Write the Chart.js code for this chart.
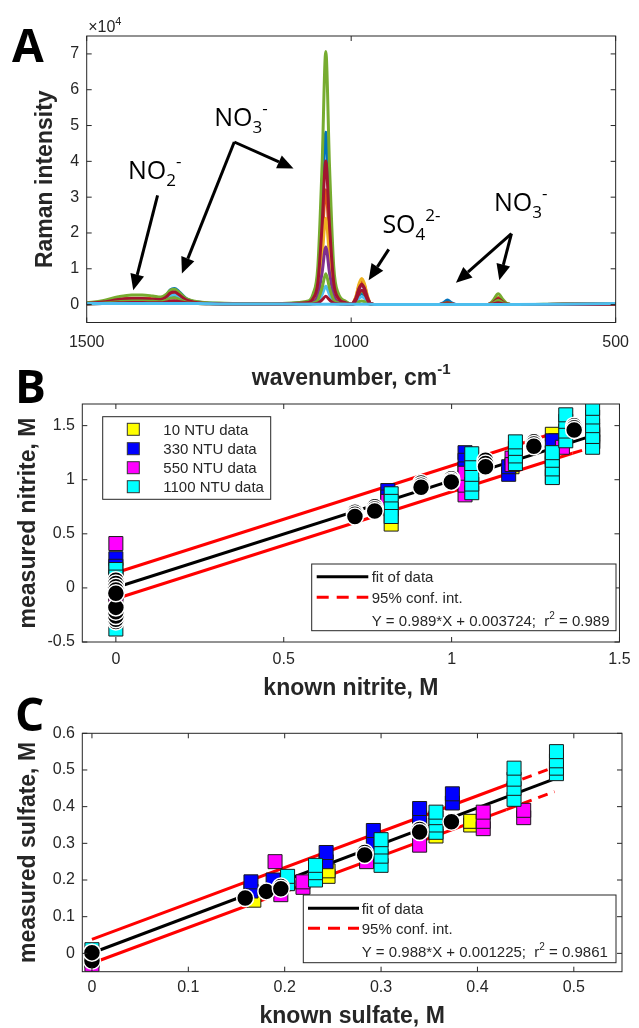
<!DOCTYPE html>
<html>
<head>
<meta charset="utf-8">
<title>Raman nitrite / sulfate</title>
<script src="https://cdn.jsdelivr.net/npm/chart.js@4.4.1/dist/chart.umd.min.js"></script>
<style>
  html, body { margin: 0; padding: 0; background: #fff; }
  #page { position: relative; width: 639px; height: 1028px; overflow: hidden; background: #fff; }
  #page canvas { position: absolute; left: 0; }
</style>
</head>
<body>
<div id="page">
  <canvas id="panelA" width="639" height="400" style="top:0"></canvas>
  <canvas id="panelB" width="639" height="345" style="top:355px"></canvas>
  <canvas id="panelC" width="639" height="338" style="top:690px"></canvas>
</div>
<script>
// --- panel A: Raman spectra (intensity in units of 1e4) ---
const wavenumber = [1500,1470,1440,1415,1395,1375,1360,1350,1342,1334,1326,1312,1290,1240,1150,1085,1072,1063,1055,1048,1041,1033,1024,1010,1000,997,991,985,980,975,969,963,950,880,835,826,818,810,801,770,742,732,722,713,704,690,600,500];
const specBlue   = [.04,.07,.13,.16,.16,.14,.14,.25,.41,.45,.37,.17,.07,.03,.02,.06,.20,.73,2.65,4.81,2.65,.73,.20,.06,.01,.02,.10,.25,.31,.25,.10,.02,0,0,0,.05,.13,.05,0,0,0,.04,.10,.05,.01,0,.01,.02];
const specOrange = [.03,.07,.14,.18,.18,.16,.14,.19,.27,.29,.23,.11,.05,.02,.02,.04,.14,.49,1.77,3.21,1.77,.49,.14,.04,.01,.03,.21,.54,.67,.54,.21,.03,0,0,0,.02,.04,.02,0,0,0,.07,.20,.09,.01,0,.01,.02];
const specYellow = [.03,.06,.11,.13,.13,.12,.10,.15,.22,.24,.19,.09,.05,.02,.02,.03,.11,.37,1.33,2.41,1.33,.37,.11,.03,.01,.03,.23,.59,.73,.59,.23,.03,0,0,0,.01,.03,.01,0,0,0,.05,.14,.06,.01,0,.01,.02];
const specPurple = [.03,.06,.12,.15,.15,.13,.12,.16,.24,.26,.21,.10,.05,.02,.02,.03,.07,.25,.89,1.61,.89,.25,.07,.03,.01,.03,.17,.43,.53,.43,.17,.03,0,0,0,.02,.05,.02,0,0,0,.04,.12,.05,.01,0,.01,.02];
const specGreen  = [.05,.11,.22,.27,.27,.24,.21,.28,.40,.43,.35,.17,.08,.04,.03,.09,.30,1.07,3.89,7.07,3.89,1.07,.30,.09,.01,.02,.12,.30,.37,.30,.12,.02,0,0,0,.02,.06,.02,0,0,0,.11,.30,.14,.02,0,.02,.03];
const specCyan   = [.02,.03,.06,.07,.07,.06,.07,.14,.24,.27,.22,.10,.04,.02,.01,.01,.03,.08,.28,.51,.28,.08,.03,.01,0,.01,.07,.18,.22,.18,.07,.01,0,0,0,.01,.03,.01,0,0,0,.02,.06,.03,0,0,0,.01];
const specRed    = [.03,.07,.14,.17,.17,.15,.14,.21,.32,.35,.28,.13,.05,.02,.02,.05,.17,.61,2.21,4.01,2.21,.61,.17,.05,.01,.03,.18,.46,.57,.46,.18,.03,0,0,0,.02,.05,.02,0,0,0,.06,.16,.07,.01,0,.01,.02];
const specGreen2 = [.02,.04,.08,.10,.10,.09,.08,.12,.18,.19,.15,.07,.03,.02,.01,.01,.04,.13,.47,.86,.47,.13,.04,.01,0,0,.03,.08,.10,.08,.03,0,0,0,0,.01,.02,.01,0,0,0,.04,.12,.05,.01,0,0,.01];
const specRed2   = [.02,.03,.05,.06,.06,.05,.05,.07,.10,.11,.09,.05,.03,.02,.01,.01,.02,.04,.13,.23,.13,.04,.02,.01,0,.01,.12,.32,.40,.32,.12,.01,0,0,0,.01,.02,.01,0,0,0,.02,.05,.02,0,0,0,.01];
const specBlank  = [.03,.03,.03,.03,.03,.03,.03,.03,.03,.03,.03,.03,.03,.02,.02,.01,.01,.01,.01,.01,.01,.01,.01,.01,.01,.01,.01,.01,.01,.01,.01,.01,0,0,0,0,0,0,0,0,0,0,0,0,0,0,.01,.03];
const wnTicks = [1500, 1000, 500];
const ramanTicks = [0, 1, 2, 3, 4, 5, 6, 7];

// --- panel B: nitrite ---
const nitXTicks = [0, 0.5, 1, 1.5];
const nitYTicks = [-0.5, 0, 0.5, 1, 1.5];
const nit10X = [0, 0, 0.82, 0.82, 1.04, 1.18, 1.30, 1.31, 1.42, 1.42];
const nit10Y = [-0.05, 0.05, 0.59, 0.72, 1.02, 1.12, 1.42, 1.36, 1.35, 1.42];
const nit330X = [0, 0, 0, 0.81, 0.81, 1.04, 1.04, 1.04, 1.04, 1.17, 1.17, 1.30, 1.30, 1.30, 1.42, 1.42];
const nit330Y = [0.27, 0.20, -0.22, 0.90, 0.84, 1.25, 1.18, 1.10, 1.00, 1.05, 1.12, 1.36, 1.25, 1.15, 1.35, 1.42];
const nit550X = [0, 0, 0, 0.81, 1.04, 1.04, 1.04, 1.18, 1.18, 1.30, 1.30, 1.33, 1.42, 1.42];
const nit550Y = [0.41, 0.08, -0.15, 0.80, 0.86, 0.95, 1.06, 1.20, 1.14, 1.03, 1.20, 1.30, 1.36, 1.46];
const nit1100X = [0, 0, 0, 0.82, 0.82, 0.82, 0.82, 1.06, 1.06, 1.06, 1.06, 1.06, 1.19, 1.19, 1.19, 1.19, 1.30, 1.30, 1.30, 1.30, 1.34, 1.34, 1.34, 1.34, 1.42, 1.42, 1.42, 1.42, 1.42];
const nit1100Y = [0.17, 0.10, -0.38, 0.87, 0.80, 0.73, 0.66, 0.88, 0.96, 1.05, 1.15, 1.24, 1.15, 1.22, 1.29, 1.35, 1.02, 1.10, 1.18, 1.25, 1.36, 1.45, 1.54, 1.60, 1.30, 1.40, 1.50, 1.58, 1.66];
const nitMeanX = [0, 0, 0, 0, 0, 0, 0, 0, 0, 0, 0.712, 0.712, 0.712, 0.771, 0.771, 0.771, 0.909, 0.909, 0.909, 0.999, 0.999, 0.999, 1.101, 1.101, 1.101, 1.245, 1.245, 1.245, 1.365, 1.365, 1.365];
const nitMeanY = [-0.31, -0.29, -0.26, -0.22, -0.18, 0.07, 0.04, 0.01, -0.02, -0.05, 0.70, 0.68, 0.66, 0.75, 0.73, 0.71, 0.97, 0.95, 0.93, 1.01, 0.99, 0.98, 1.18, 1.15, 1.12, 1.35, 1.33, 1.31, 1.50, 1.48, 1.46];
const nitFitX = [0, 1.42];
const nitFitY = [0.004, 1.408];
const nitCiX = [0, 1.36, 1.42];
const nitCiUpY = [0.14, 1.485, 1.544];
const nitCiLoY = [-0.10, 1.245, 1.30];

// --- panel C: sulfate ---
const sulXTicks = [0, 0.1, 0.2, 0.3, 0.4, 0.5];
const sulYTicks = [0, 0.1, 0.2, 0.3, 0.4, 0.5, 0.6];
const sul10X = [0, 0.168, 0.245, 0.245, 0.357, 0.393, 0.393];
const sul10Y = [-0.02, 0.145, 0.21, 0.225, 0.32, 0.35, 0.36];
const sul330X = [0, 0.165, 0.165, 0.188, 0.243, 0.243, 0.292, 0.292, 0.34, 0.34, 0.34, 0.374, 0.374];
const sul330Y = [-0.01, 0.17, 0.195, 0.20, 0.25, 0.275, 0.30, 0.335, 0.35, 0.37, 0.395, 0.41, 0.435];
const sul550X = [0, 0.19, 0.196, 0.219, 0.219, 0.285, 0.34, 0.406, 0.406, 0.406, 0.448, 0.448];
const sul550Y = [-0.03, 0.25, 0.16, 0.18, 0.195, 0.25, 0.295, 0.34, 0.36, 0.385, 0.37, 0.39];
const sul1100X = [0, 0.203, 0.203, 0.232, 0.232, 0.232, 0.30, 0.30, 0.30, 0.30, 0.357, 0.357, 0.357, 0.357, 0.438, 0.438, 0.438, 0.438, 0.482, 0.482, 0.482, 0.482];
const sul1100Y = [0.01, 0.19, 0.21, 0.20, 0.22, 0.24, 0.24, 0.265, 0.29, 0.31, 0.33, 0.35, 0.37, 0.385, 0.42, 0.45, 0.475, 0.505, 0.49, 0.505, 0.525, 0.55];
const sulMeanX = [0, 0, 0.159, 0.181, 0.196, 0.196, 0.283, 0.283, 0.34, 0.34, 0.373];
const sulMeanY = [-0.02, 0.002, 0.151, 0.169, 0.182, 0.176, 0.275, 0.268, 0.338, 0.331, 0.359];
const sulFitX = [0, 0.48];
const sulFitY = [0.001, 0.476];
const sulCiX = [0, 0.43, 0.48];
const sulCiUpY = [0.038, 0.459, 0.508];
const sulCiLoY = [-0.027, 0.392, 0.441];

const ntuLabels = ['10 NTU data', '330 NTU data', '550 NTU data', '1100 NTU data'];
const ntuColors = ['#FFFF00', '#0000FF', '#FF00FF', '#00FFFF'];

// annotation anchors in panel A, in data units (wavenumber, intensity/1e4)
const peakLabels = [
  { base: 'NO', sub: '2', sup: '-', wn: 1422, val: 3.52 },
  { base: 'NO', sub: '3', sup: '-', wn: 1259, val: 5.0 },
  { base: 'SO', sub: '4', sup: '2-', wn: 941, val: 1.99 },
  { base: 'NO', sub: '3', sup: '-', wn: 730, val: 2.61 }
];
const peakArrows = [
  [1366, 3.05, 1412, 0.40],
  [1221, 4.54, 1320, 0.87],
  [1221, 4.54, 1109, 3.80],
  [929, 1.54, 967, 0.68],
  [697, 1.98, 802, 0.61],
  [697, 1.98, 720, 0.68]
];

const FAMILY = "'Liberation Sans', Arial, sans-serif";
const INK = '#262626';

const pts = (xs, ys) => xs.map((x, i) => ({ x: x, y: ys[i] }));

function axis(min, max, values, horizontal, size, pad, reverse) {
  return {
    type: 'linear', min: min, max: max, reverse: !!reverse,
    afterBuildTicks: s => { s.ticks = values.map(v => ({ value: v })); },
    afterFit: s => { if (horizontal) s.height = size; else s.width = size; },
    grid: { display: false, drawTicks: false },
    border: { display: false },
    ticks: { autoSkip: false, maxRotation: 0, padding: pad, color: INK,
             font: { family: FAMILY, size: 16 }, callback: v => String(v) }
  };
}

function baseOptions(padding, xAxis, yAxis) {
  return {
    responsive: false, animation: false, devicePixelRatio: 1, events: [],
    layout: { padding: padding },
    plugins: { legend: { display: false }, tooltip: { enabled: false } },
    scales: { x: xAxis, y: yAxis }
  };
}

// box with inward ticks on all four sides
function drawFrame(chart) {
  const { ctx, chartArea: a } = chart;
  const sx = chart.scales.x, sy = chart.scales.y;
  ctx.save();
  ctx.strokeStyle = INK;
  ctx.lineWidth = 1;
  ctx.beginPath();
  sx.ticks.forEach(t => {
    const p = sx.getPixelForValue(t.value);
    ctx.moveTo(p, a.bottom); ctx.lineTo(p, a.bottom - 5);
    ctx.moveTo(p, a.top); ctx.lineTo(p, a.top + 5);
  });
  sy.ticks.forEach(t => {
    const p = sy.getPixelForValue(t.value);
    ctx.moveTo(a.left, p); ctx.lineTo(a.left + 5, p);
    ctx.moveTo(a.right, p); ctx.lineTo(a.right - 5, p);
  });
  ctx.stroke();
  ctx.strokeRect(a.left, a.top, a.right - a.left, a.bottom - a.top);
  ctx.restore();
}

// parts: [text, size, bold, dy]
function drawRich(ctx, x, y, parts, family, align) {
  let w = 0;
  parts.forEach(p => {
    ctx.font = (p[2] ? 'bold ' : '') + p[1] + 'px ' + family;
    w += ctx.measureText(p[0]).width;
  });
  let cx = align === 'center' ? x - w / 2 : x;
  ctx.textAlign = 'left';
  ctx.textBaseline = 'alphabetic';
  parts.forEach(p => {
    ctx.font = (p[2] ? 'bold ' : '') + p[1] + 'px ' + family;
    ctx.fillText(p[0], cx, y + p[3]);
    cx += ctx.measureText(p[0]).width;
  });
}

function drawYTitle(ctx, text, x, y) {
  ctx.save();
  ctx.translate(x, y);
  ctx.rotate(-Math.PI / 2);
  ctx.fillStyle = INK;
  ctx.font = 'bold 23px ' + FAMILY;
  ctx.textAlign = 'center';
  ctx.textBaseline = 'alphabetic';
  ctx.fillText(text, 0, 0);
  ctx.restore();
}

function drawPanelLetter(ctx, letter, x, y) {
  ctx.save();
  ctx.fillStyle = '#000';
  ctx.font = "bold 46px 'Open Sans', sans-serif";
  ctx.textAlign = 'left';
  ctx.textBaseline = 'alphabetic';
  ctx.fillText(letter, x, y);
  ctx.restore();
}

function arrow(ctx, x1, y1, x2, y2) {
  const ang = Math.atan2(y2 - y1, x2 - x1), L = 16, W = 7;
  const bx = x2 - L * Math.cos(ang), by = y2 - L * Math.sin(ang);
  ctx.beginPath(); ctx.moveTo(x1, y1); ctx.lineTo(bx, by); ctx.stroke();
  ctx.beginPath();
  ctx.moveTo(x2, y2);
  ctx.lineTo(bx + W * Math.sin(ang), by - W * Math.cos(ang));
  ctx.lineTo(bx - W * Math.sin(ang), by + W * Math.cos(ang));
  ctx.closePath(); ctx.fill();
}

function drawNtuLegend(ctx, box, markerX, textX, rows) {
  ctx.save();
  ctx.fillStyle = '#fff';
  ctx.fillRect(box[0], box[1], box[2] - box[0], box[3] - box[1]);
  ctx.strokeStyle = INK; ctx.lineWidth = 1;
  ctx.strokeRect(box[0], box[1], box[2] - box[0], box[3] - box[1]);
  rows.forEach((ry, i) => {
    ctx.fillStyle = ntuColors[i];
    ctx.fillRect(markerX - 6, ry - 6, 12, 12);
    ctx.strokeStyle = '#333';
    ctx.strokeRect(markerX - 6, ry - 6, 12, 12);
    ctx.fillStyle = INK;
    drawRich(ctx, textX, ry + 5.5, [[ntuLabels[i], 15, false, 0]], FAMILY, 'left');
  });
  ctx.restore();
}

function drawFitLegend(ctx, box, lineX0, lineX1, textX, rows, equation, r2) {
  ctx.save();
  ctx.fillStyle = '#fff';
  ctx.fillRect(box[0], box[1], box[2] - box[0], box[3] - box[1]);
  ctx.strokeStyle = INK; ctx.lineWidth = 1;
  ctx.strokeRect(box[0], box[1], box[2] - box[0], box[3] - box[1]);
  ctx.lineWidth = 3;
  ctx.strokeStyle = '#000';
  ctx.beginPath(); ctx.moveTo(lineX0, rows[0]); ctx.lineTo(lineX1, rows[0]); ctx.stroke();
  ctx.strokeStyle = '#FF0000';
  ctx.setLineDash([12, 8]);
  ctx.beginPath(); ctx.moveTo(lineX0, rows[1]); ctx.lineTo(lineX1, rows[1]); ctx.stroke();
  ctx.setLineDash([]);
  ctx.fillStyle = INK;
  drawRich(ctx, textX, rows[0] + 5.5, [['fit of data', 15, false, 0]], FAMILY, 'left');
  drawRich(ctx, textX, rows[1] + 5.5, [['95% conf. int.', 15, false, 0]], FAMILY, 'left');
  drawRich(ctx, textX, rows[2] + 5.5, [[equation + ';  r', 15, false, 0], ['2', 10, false, -7], [' = ' + r2, 15, false, 0]], FAMILY, 'left');
  ctx.restore();
}

const squares = (xs, ys, color, order) => ({
  data: pts(xs, ys), pointStyle: 'rect', pointRadius: 9.9,
  backgroundColor: color, borderColor: '#1a1a1a', borderWidth: 1, order: order
});
const means = (xs, ys) => ({
  data: pts(xs, ys), pointStyle: 'circle', pointRadius: 8.5,
  backgroundColor: '#000', borderColor: '#fff', borderWidth: 1.5, order: 0
});
const fitLine = (xs, ys, color, order, dashFrom) => ({
  data: pts(xs, ys), showLine: true, pointRadius: 0, borderColor: color, borderWidth: 3, order: order,
  segment: { borderDash: c => (dashFrom !== undefined && c.p0DataIndex >= dashFrom) ? [10, 7] : undefined }
});

// ---------- Panel A ----------
const specSeries = [specBlue, specOrange, specYellow, specPurple, specGreen, specCyan, specRed, specGreen2, specRed2, specBlank];
const specColors = ['#0072BD', '#D95319', '#EDB120', '#7E2F8E', '#77AC30', '#4DBEEE', '#A2142F', '#77AC30', '#A2142F', '#4DBEEE'];

new Chart(document.getElementById('panelA'), {
  type: 'scatter',
  data: {
    datasets: specSeries.map((vals, i) => ({
      data: pts(wavenumber, vals), showLine: true, pointRadius: 0,
      borderColor: specColors[i], borderWidth: 3, cubicInterpolationMode: 'monotone',
      order: specSeries.length - i
    }))
  },
  options: baseOptions({ left: 0, right: 21.7, top: 36, bottom: 0 },
    axis(500, 1500, wnTicks, true, 77.5, 10, true),
    axis(-0.5, 7.5, ramanTicks, false, 86.7, 7.5)),
  plugins: [{
    id: 'panelAExtras',
    afterDraw(chart) {
      const { ctx, chartArea: a } = chart;
      const sx = chart.scales.x, sy = chart.scales.y;
      drawFrame(chart);
      ctx.save();
      ctx.fillStyle = '#000'; ctx.strokeStyle = '#000'; ctx.lineWidth = 3;
      peakArrows.forEach(r => arrow(ctx, sx.getPixelForValue(r[0]), sy.getPixelForValue(r[1]),
                                         sx.getPixelForValue(r[2]), sy.getPixelForValue(r[3])));
      peakLabels.forEach(l => drawRich(ctx, sx.getPixelForValue(l.wn), sy.getPixelForValue(l.val),
        [[l.base, 25, false, 0], [l.sub, 17, false, 7], [l.sup, 17, false, -12]], "'Open Sans', sans-serif", 'left'));
      ctx.fillStyle = INK;
      drawRich(ctx, a.left + 1.5, 32, [['\u00d710', 16, false, 0], ['4', 11, false, -7]], FAMILY, 'left');
      drawRich(ctx, (a.left + a.right) / 2, 385, [['wavenumber, cm', 23, true, 0], ['-1', 15, true, -11]], FAMILY, 'center');
      ctx.restore();
      drawYTitle(ctx, 'Raman intensity', 52, (a.top + a.bottom) / 2);
      drawPanelLetter(ctx, 'A', 12, 62);
    }
  }]
});

// ---------- Panel B ----------
new Chart(document.getElementById('panelB'), {
  type: 'scatter',
  data: {
    datasets: [
      means(nitMeanX, nitMeanY),
      squares(nit1100X, nit1100Y, '#00FFFF', 1),
      squares(nit550X, nit550Y, '#FF00FF', 2),
      squares(nit330X, nit330Y, '#0000FF', 3),
      squares(nit10X, nit10Y, '#FFFF00', 4),
      fitLine(nitFitX, nitFitY, '#000000', 5),
      fitLine(nitCiX, nitCiUpY, '#FF0000', 6, 1),
      fitLine(nitCiX, nitCiLoY, '#FF0000', 7, 1)
    ]
  },
  options: baseOptions({ left: 0, right: 14.7, top: 49, bottom: 0 },
    axis(-0.1, 1.5, nitXTicks, true, 58, 8.4),
    axis(-0.5, 1.7, nitYTicks, false, 82.3, 7.3)),
  plugins: [{
    id: 'panelBExtras',
    afterDraw(chart) {
      const { ctx, chartArea: a } = chart;
      drawFrame(chart);
      drawNtuLegend(ctx, [102.7, 61.7, 270.7, 144.3], 133.3, 163.3, [74.3, 93.7, 112.7, 131.7]);
      drawFitLegend(ctx, [311.7, 209, 616, 275.7], 316.7, 368.3, 371.7, [221.7, 242.3, 265],
        'Y = 0.989*X + 0.003724', '0.989');
      ctx.save();
      ctx.fillStyle = INK;
      drawRich(ctx, (a.left + a.right) / 2, 340, [['known nitrite, M', 23, true, 0]], FAMILY, 'center');
      ctx.restore();
      drawYTitle(ctx, 'measured nitrite, M', 35, (a.top + a.bottom) / 2);
      drawPanelLetter(ctx, 'B', 15, 48);
    }
  }]
});

// ---------- Panel C ----------
new Chart(document.getElementById('panelC'), {
  type: 'scatter',
  data: {
    datasets: [
      means(sulMeanX, sulMeanY),
      squares(sul1100X, sul1100Y, '#00FFFF', 1),
      squares(sul550X, sul550Y, '#FF00FF', 2),
      squares(sul330X, sul330Y, '#0000FF', 3),
      squares(sul10X, sul10Y, '#FFFF00', 4),
      fitLine(sulFitX, sulFitY, '#000000', 5),
      fitLine(sulCiX, sulCiUpY, '#FF0000', 6, 1),
      fitLine(sulCiX, sulCiLoY, '#FF0000', 7, 1)
    ]
  },
  options: baseOptions({ left: 0, right: 17, top: 43.3, bottom: 0 },
    axis(-0.01, 0.55, sulXTicks, true, 56.3, 6.7),
    axis(-0.05, 0.6, sulYTicks, false, 82.3, 7.3)),
  plugins: [{
    id: 'panelCExtras',
    afterDraw(chart) {
      const { ctx, chartArea: a } = chart;
      drawFrame(chart);
      drawFitLegend(ctx, [303.3, 205, 616, 272.7], 308, 359, 361.7, [218.3, 238.3, 261.7],
        'Y = 0.988*X + 0.001225', '0.9861');
      ctx.save();
      ctx.fillStyle = INK;
      drawRich(ctx, (a.left + a.right) / 2, 333, [['known sulfate, M', 23, true, 0]], FAMILY, 'center');
      ctx.restore();
      drawYTitle(ctx, 'measured sulfate, M', 35, (a.top + a.bottom) / 2);
      drawPanelLetter(ctx, 'C', 15, 41);
    }
  }]
});
</script>
</body>
</html>
